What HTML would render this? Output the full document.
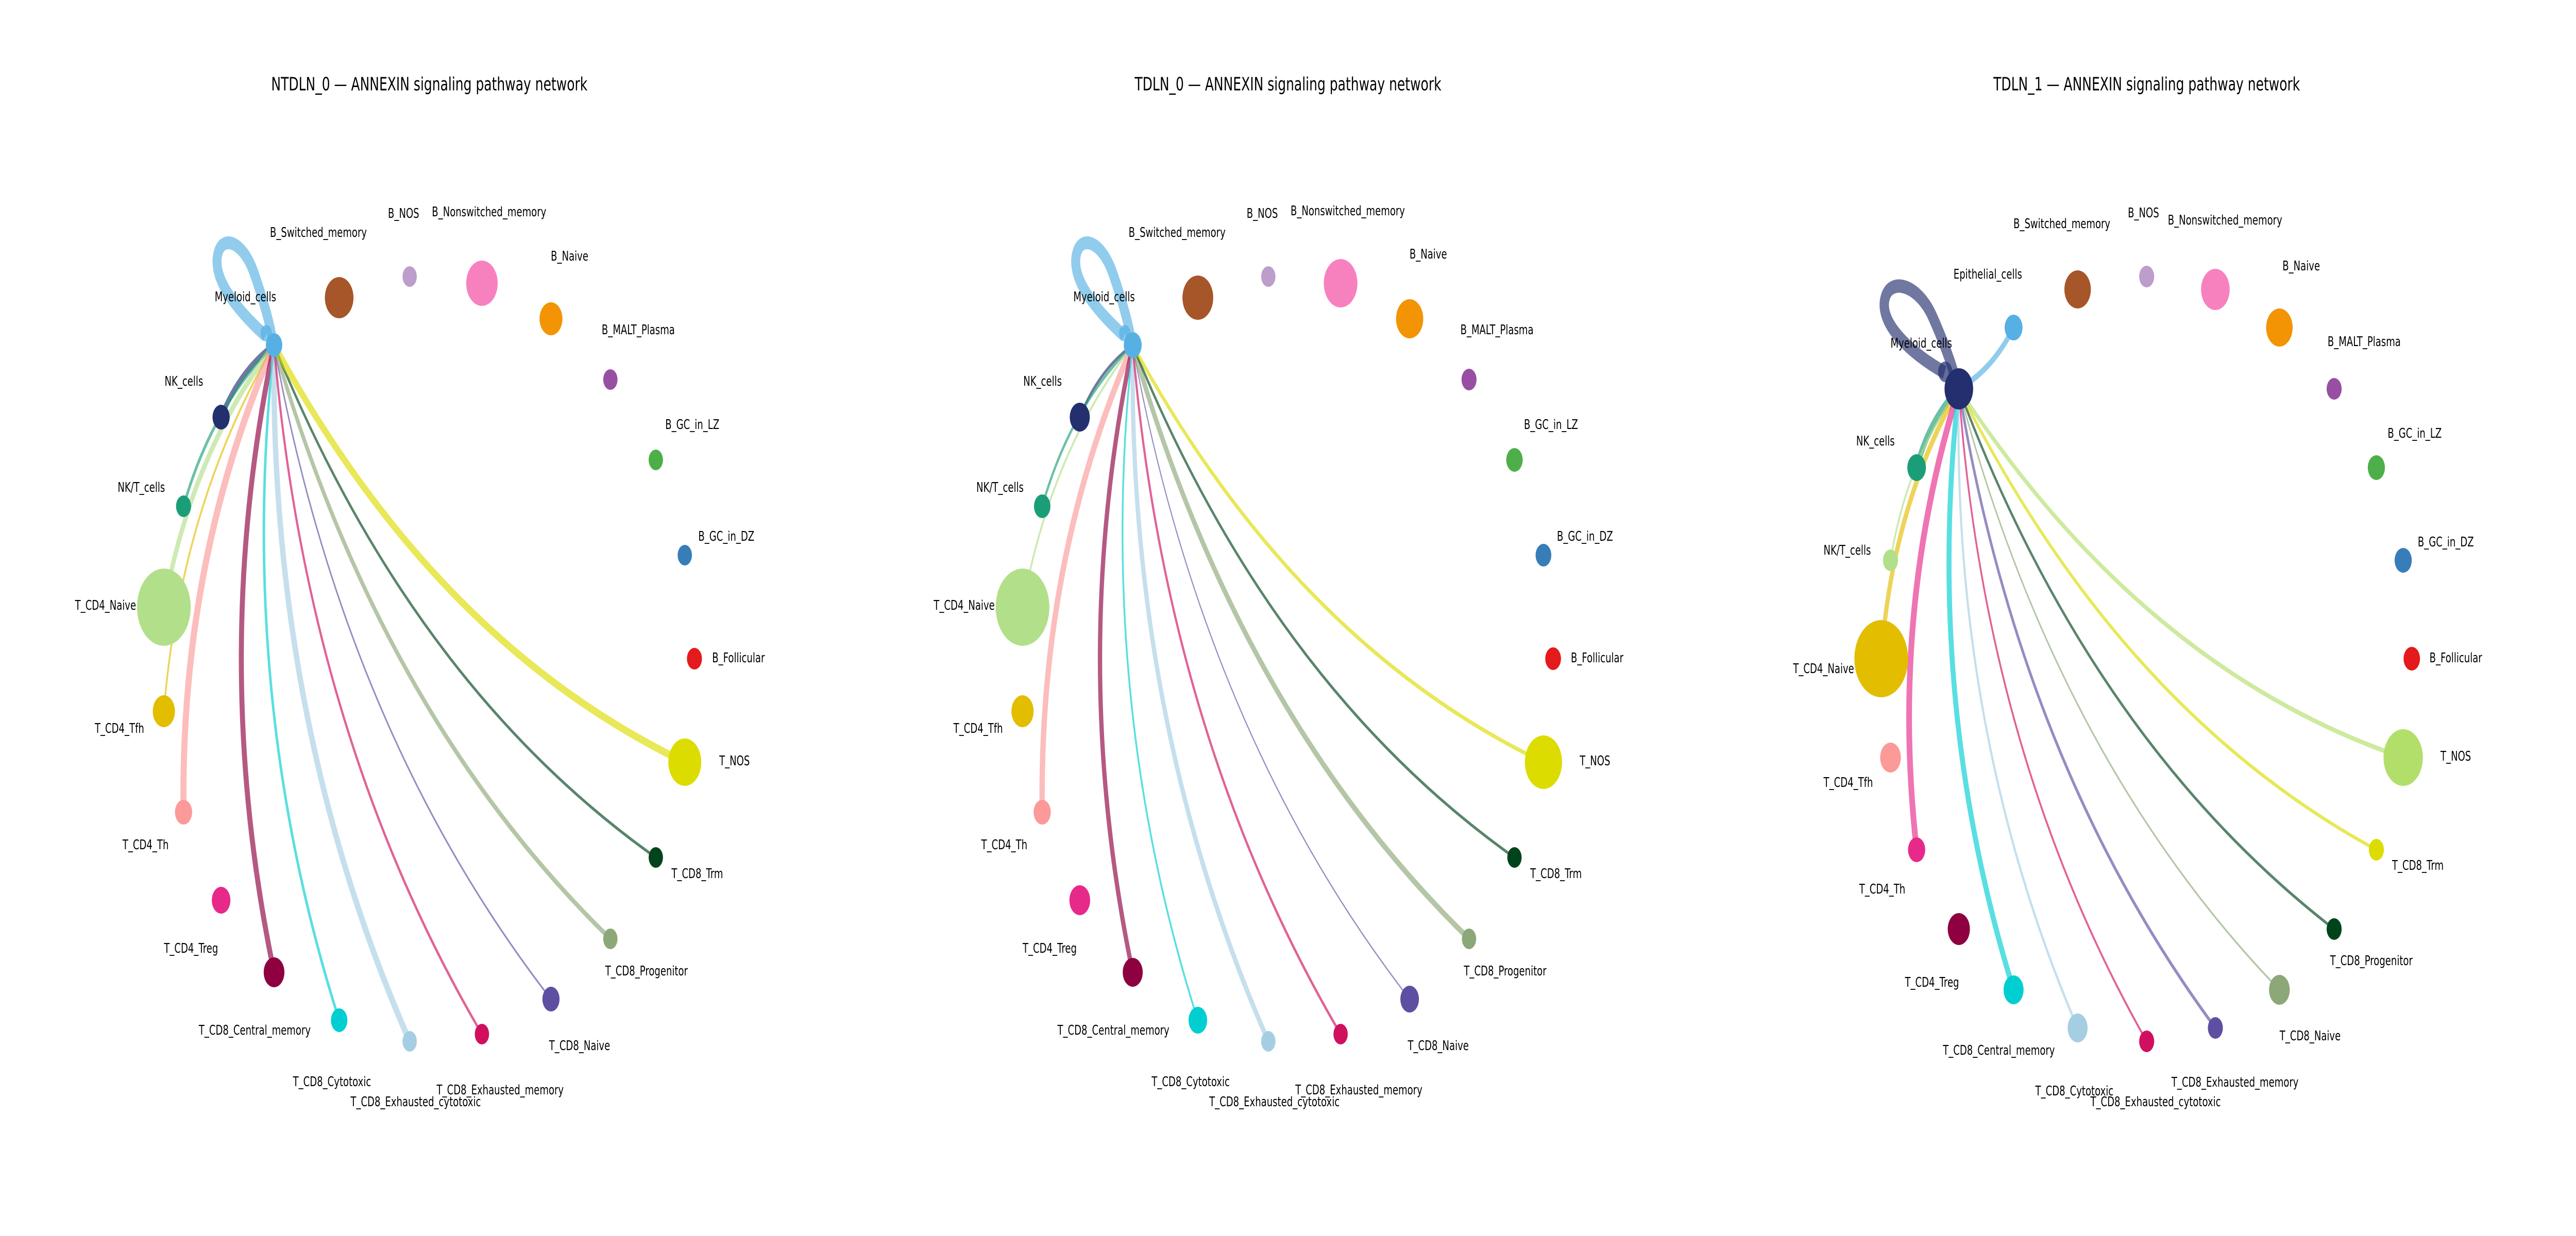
<!DOCTYPE html>
<html><head><meta charset="utf-8"><style>
html,body{margin:0;padding:0;background:#fff;width:100%;height:100%;overflow:hidden;}
svg{display:block;position:absolute;left:0;top:0;width:100vw;height:100vh;}
text{font-family:"DejaVu Sans","Liberation Sans",sans-serif;font-size:26px;fill:#000;text-anchor:middle;dominant-baseline:central;}
.t{font-size:36px;}
path{fill:none;stroke-linecap:butt;stroke-opacity:0.65;}
</style></head><body>
<svg viewBox="0 0 7200 2400" preserveAspectRatio="none" xmlns="http://www.w3.org/2000/svg">
<rect width="7200" height="2400" fill="#fff"/>

<!-- ================= PANEL 1 ================= -->
<text class="t" x="1200" y="164">NTDLN_0 — ANNEXIN signaling pathway network</text>
<g>
<path d="M742,652 C660,600 590,540 610,490 C625,455 680,470 710,530 C735,580 755,630 760,655" stroke="#56b0e4" stroke-width="25"/>
<circle cx="744" cy="647" r="16" fill="#56b0e4" fill-opacity="0.7"/>
<path d="M766,670 Q671,718 618,810" stroke="#232f6e" stroke-width="12"/>
<path d="M766,670 Q593,789 513,983" stroke="#1b9e77" stroke-width="7"/>
<path d="M766,670 Q536,878 458,1179" stroke="#b2df8a" stroke-width="12"/>
<path d="M766,670 Q505,980 458,1381" stroke="#e3bd00" stroke-width="5"/>
<path d="M766,670 Q504,1086 513,1577" stroke="#fb9a99" stroke-width="17"/>
<path d="M766,670 Q583,1279 766,1888" stroke="#8e0040" stroke-width="14"/>
<path d="M766,670 Q660,1353 948,1981" stroke="#00ced1" stroke-width="7"/>
<path d="M766,670 Q753,1403 1145,2022" stroke="#a6cee3" stroke-width="15"/>
<path d="M766,670 Q856,1426 1347,2008" stroke="#d0105e" stroke-width="6"/>
<path d="M766,670 Q962,1421 1540,1940" stroke="#5e4fa2" stroke-width="4"/>
<path d="M766,670 Q1063,1388 1706,1823" stroke="#8da878" stroke-width="10"/>
<path d="M766,670 Q1150,1328 1833,1665" stroke="#00441b" stroke-width="6"/>
<path d="M766,670 Q1218,1247 1914,1480" stroke="#dcdc00" stroke-width="15"/>
</g>
<g>
<circle cx="766" cy="670" r="23" fill="#56b0e4"/>
<circle cx="948" cy="578" r="40" fill="#a65628"/>
<circle cx="1145" cy="537" r="20" fill="#bc9dcc"/>
<circle cx="1347" cy="550" r="44" fill="#f781bf"/>
<circle cx="1540" cy="619" r="32" fill="#f29403"/>
<circle cx="1706" cy="737" r="20" fill="#984ea3"/>
<circle cx="1833" cy="893" r="20" fill="#4daf4a"/>
<circle cx="1914" cy="1078" r="20" fill="#377eb8"/>
<circle cx="1941" cy="1279" r="21" fill="#e41a1c"/>
<circle cx="1914" cy="1480" r="46" fill="#dcdc00"/>
<circle cx="1833" cy="1665" r="20" fill="#00441b"/>
<circle cx="1706" cy="1823" r="20" fill="#8da878"/>
<circle cx="1540" cy="1940" r="24" fill="#5e4fa2"/>
<circle cx="1347" cy="2008" r="20" fill="#d0105e"/>
<circle cx="1145" cy="2022" r="20" fill="#a6cee3"/>
<circle cx="948" cy="1981" r="23" fill="#00ced1"/>
<circle cx="766" cy="1888" r="29" fill="#8e0040"/>
<circle cx="618" cy="1748" r="26" fill="#e7298a"/>
<circle cx="513" cy="1577" r="24" fill="#fb9a99"/>
<circle cx="458" cy="1381" r="31" fill="#e3bd00"/>
<circle cx="458" cy="1179" r="75" fill="#b2df8a"/>
<circle cx="513" cy="983" r="21" fill="#1b9e77"/>
<circle cx="618" cy="810" r="24" fill="#232f6e"/>
</g>
<g>
<text x="890" y="452">B_Switched_memory</text>
<text x="1128" y="415">B_NOS</text>
<text x="1367" y="412">B_Nonswitched_memory</text>
<text x="1592" y="498">B_Naive</text>
<text x="1784" y="641">B_MALT_Plasma</text>
<text x="1935" y="825">B_GC_in_LZ</text>
<text x="2030" y="1042">B_GC_in_DZ</text>
<text x="2064" y="1278">B_Follicular</text>
<text x="2053" y="1478">T_NOS</text>
<text x="1949" y="1697">T_CD8_Trm</text>
<text x="1807" y="1886">T_CD8_Progenitor</text>
<text x="1620" y="2031">T_CD8_Naive</text>
<text x="1398" y="2117">T_CD8_Exhausted_memory</text>
<text x="1162" y="2140">T_CD8_Exhausted_cytotoxic</text>
<text x="928" y="2101">T_CD8_Cytotoxic</text>
<text x="712" y="2001">T_CD8_Central_memory</text>
<text x="534" y="1842">T_CD4_Treg</text>
<text x="407" y="1641">T_CD4_Th</text>
<text x="334" y="1415">T_CD4_Tfh</text>
<text x="295" y="1176">T_CD4_Naive</text>
<text x="395" y="947">NK/T_cells</text>
<text x="514" y="741">NK_cells</text>
<text x="686" y="577">Myeloid_cells</text>
</g>

<!-- ================= PANEL 2 ================= -->
<text class="t" x="3600" y="164">TDLN_0 — ANNEXIN signaling pathway network</text>
<g>
<path d="M3142,652 C3060,600 2990,540 3010,490 C3025,455 3080,470 3110,530 C3135,580 3155,630 3160,655" stroke="#56b0e4" stroke-width="25"/>
<circle cx="3144" cy="647" r="16" fill="#56b0e4" fill-opacity="0.7"/>
<path d="M3166,670 Q3071,718 3018,810" stroke="#232f6e" stroke-width="6"/>
<path d="M3166,670 Q2993,789 2913,983" stroke="#1b9e77" stroke-width="6"/>
<path d="M3166,670 Q2936,878 2858,1179" stroke="#b2df8a" stroke-width="5"/>
<path d="M3166,670 Q2904,1086 2913,1577" stroke="#fb9a99" stroke-width="15"/>
<path d="M3166,670 Q2983,1279 3166,1888" stroke="#8e0040" stroke-width="12"/>
<path d="M3166,670 Q3060,1353 3348,1981" stroke="#00ced1" stroke-width="5"/>
<path d="M3166,670 Q3153,1403 3545,2022" stroke="#a6cee3" stroke-width="12"/>
<path d="M3166,670 Q3256,1426 3747,2008" stroke="#d0105e" stroke-width="6"/>
<path d="M3166,670 Q3362,1421 3940,1940" stroke="#5e4fa2" stroke-width="3"/>
<path d="M3166,670 Q3463,1388 4106,1823" stroke="#8da878" stroke-width="12"/>
<path d="M3166,670 Q3550,1328 4233,1665" stroke="#00441b" stroke-width="6"/>
<path d="M3166,670 Q3618,1247 4314,1480" stroke="#dcdc00" stroke-width="8"/>
</g>
<g>
<circle cx="3166" cy="670" r="25" fill="#56b0e4"/>
<circle cx="3348" cy="578" r="43" fill="#a65628"/>
<circle cx="3545" cy="537" r="20" fill="#bc9dcc"/>
<circle cx="3747" cy="550" r="47" fill="#f781bf"/>
<circle cx="3940" cy="619" r="38" fill="#f29403"/>
<circle cx="4106" cy="737" r="21" fill="#984ea3"/>
<circle cx="4233" cy="893" r="23" fill="#4daf4a"/>
<circle cx="4314" cy="1078" r="22" fill="#377eb8"/>
<circle cx="4341" cy="1279" r="22" fill="#e41a1c"/>
<circle cx="4314" cy="1480" r="52" fill="#dcdc00"/>
<circle cx="4233" cy="1665" r="20" fill="#00441b"/>
<circle cx="4106" cy="1823" r="20" fill="#8da878"/>
<circle cx="3940" cy="1940" r="26" fill="#5e4fa2"/>
<circle cx="3747" cy="2008" r="20" fill="#d0105e"/>
<circle cx="3545" cy="2022" r="20" fill="#a6cee3"/>
<circle cx="3348" cy="1981" r="26" fill="#00ced1"/>
<circle cx="3166" cy="1888" r="28" fill="#8e0040"/>
<circle cx="3018" cy="1748" r="29" fill="#e7298a"/>
<circle cx="2913" cy="1577" r="24" fill="#fb9a99"/>
<circle cx="2858" cy="1381" r="31" fill="#e3bd00"/>
<circle cx="2858" cy="1179" r="75" fill="#b2df8a"/>
<circle cx="2913" cy="983" r="23" fill="#1b9e77"/>
<circle cx="3018" cy="810" r="28" fill="#232f6e"/>
</g>
<g>
<text x="3290" y="452">B_Switched_memory</text>
<text x="3528" y="415">B_NOS</text>
<text x="3767" y="410">B_Nonswitched_memory</text>
<text x="3992" y="494">B_Naive</text>
<text x="4184" y="641">B_MALT_Plasma</text>
<text x="4335" y="825">B_GC_in_LZ</text>
<text x="4430" y="1042">B_GC_in_DZ</text>
<text x="4464" y="1278">B_Follicular</text>
<text x="4458" y="1478">T_NOS</text>
<text x="4349" y="1697">T_CD8_Trm</text>
<text x="4207" y="1886">T_CD8_Progenitor</text>
<text x="4020" y="2031">T_CD8_Naive</text>
<text x="3798" y="2117">T_CD8_Exhausted_memory</text>
<text x="3562" y="2140">T_CD8_Exhausted_cytotoxic</text>
<text x="3328" y="2101">T_CD8_Cytotoxic</text>
<text x="3112" y="2001">T_CD8_Central_memory</text>
<text x="2934" y="1842">T_CD4_Treg</text>
<text x="2807" y="1641">T_CD4_Th</text>
<text x="2734" y="1415">T_CD4_Tfh</text>
<text x="2695" y="1176">T_CD4_Naive</text>
<text x="2795" y="947">NK/T_cells</text>
<text x="2914" y="741">NK_cells</text>
<text x="3086" y="577">Myeloid_cells</text>
</g>

<!-- ================= PANEL 3 ================= -->
<text class="t" x="6000" y="164">TDLN_1 — ANNEXIN signaling pathway network</text>
<g>
<path d="M5435,723 C5336,684 5245,624 5271,574 C5290,539 5362,554 5401,614 C5433,664 5459,714 5466,739" stroke="#232f6e" stroke-width="26"/>
<circle cx="5437" cy="722" r="20" fill="#232f6e" fill-opacity="0.7"/>
<path d="M5475,755 Q5569,718 5628,636" stroke="#56b0e4" stroke-width="12"/>
<path d="M5475,755 Q5393,814 5357,908" stroke="#1b9e77" stroke-width="14"/>
<path d="M5475,755 Q5330,893 5284,1088" stroke="#b2df8a" stroke-width="5"/>
<path d="M5475,755 Q5288,984 5258,1279" stroke="#e3bd00" stroke-width="12"/>
<path d="M5475,755 Q5282,1185 5357,1650" stroke="#e7298a" stroke-width="16"/>
<path d="M5475,755 Q5377,1361 5628,1922" stroke="#00ced1" stroke-width="14"/>
<path d="M5475,755 Q5455,1425 5807,1996" stroke="#a6cee3" stroke-width="6"/>
<path d="M5475,755 Q5547,1467 6000,2022" stroke="#d0105e" stroke-width="5"/>
<path d="M5475,755 Q5647,1483 6192,1996" stroke="#5e4fa2" stroke-width="7"/>
<path d="M5475,755 Q5748,1473 6371,1922" stroke="#8da878" stroke-width="4"/>
<path d="M5475,755 Q5842,1437 6524,1804" stroke="#00441b" stroke-width="6"/>
<path d="M5475,755 Q5924,1378 6642,1650" stroke="#dcdc00" stroke-width="7"/>
<path d="M5475,755 Q5989,1299 6717,1471" stroke="#b2df6a" stroke-width="9"/>
</g>
<g>
<circle cx="5475" cy="755" r="40" fill="#232f6e"/>
<circle cx="5628" cy="636" r="25" fill="#56b0e4"/>
<circle cx="5807" cy="562" r="37" fill="#a65628"/>
<circle cx="6000" cy="537" r="21" fill="#bc9dcc"/>
<circle cx="6192" cy="562" r="40" fill="#f781bf"/>
<circle cx="6371" cy="636" r="37" fill="#f29403"/>
<circle cx="6524" cy="755" r="21" fill="#984ea3"/>
<circle cx="6642" cy="908" r="24" fill="#4daf4a"/>
<circle cx="6717" cy="1088" r="24" fill="#377eb8"/>
<circle cx="6741" cy="1279" r="23" fill="#e41a1c"/>
<circle cx="6717" cy="1471" r="55" fill="#b2df6a"/>
<circle cx="6642" cy="1650" r="21" fill="#dcdc00"/>
<circle cx="6524" cy="1804" r="21" fill="#00441b"/>
<circle cx="6371" cy="1922" r="29" fill="#8da878"/>
<circle cx="6192" cy="1996" r="21" fill="#5e4fa2"/>
<circle cx="6000" cy="2022" r="21" fill="#d0105e"/>
<circle cx="5807" cy="1996" r="28" fill="#a6cee3"/>
<circle cx="5628" cy="1922" r="28" fill="#00ced1"/>
<circle cx="5475" cy="1804" r="31" fill="#8e0040"/>
<circle cx="5357" cy="1650" r="24" fill="#e7298a"/>
<circle cx="5284" cy="1471" r="29" fill="#fb9a99"/>
<circle cx="5258" cy="1279" r="75" fill="#e3bd00"/>
<circle cx="5284" cy="1088" r="21" fill="#b2df8a"/>
<circle cx="5357" cy="908" r="26" fill="#1b9e77"/>
</g>
<g>
<text x="5556" y="533">Epithelial_cells</text>
<text x="5763" y="435">B_Switched_memory</text>
<text x="5991" y="414">B_NOS</text>
<text x="6219" y="428">B_Nonswitched_memory</text>
<text x="6432" y="517">B_Naive</text>
<text x="6608" y="664">B_MALT_Plasma</text>
<text x="6749" y="842">B_GC_in_LZ</text>
<text x="6836" y="1053">B_GC_in_DZ</text>
<text x="6864" y="1278">B_Follicular</text>
<text x="6864" y="1469">T_NOS</text>
<text x="6758" y="1681">T_CD8_Trm</text>
<text x="6628" y="1866">T_CD8_Progenitor</text>
<text x="6457" y="2012">T_CD8_Naive</text>
<text x="6247" y="2102">T_CD8_Exhausted_memory</text>
<text x="6025" y="2140">T_CD8_Exhausted_cytotoxic</text>
<text x="5798" y="2119">T_CD8_Cytotoxic</text>
<text x="5587" y="2040">T_CD8_Central_memory</text>
<text x="5400" y="1908">T_CD4_Treg</text>
<text x="5261" y="1727">T_CD4_Th</text>
<text x="5166" y="1520">T_CD4_Tfh</text>
<text x="5097" y="1299">T_CD4_Naive</text>
<text x="5163" y="1069">NK/T_cells</text>
<text x="5242" y="857">NK_cells</text>
<text x="5370" y="667">Myeloid_cells</text>
</g>
</svg>
</body></html>
